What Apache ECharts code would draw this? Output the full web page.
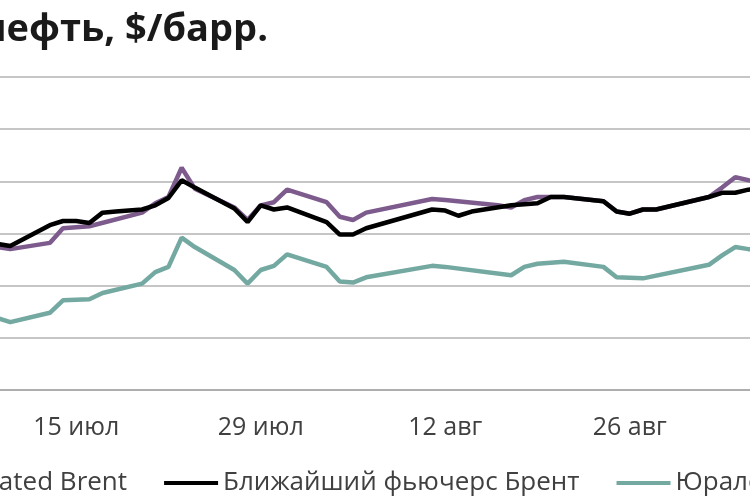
<!DOCTYPE html>
<html lang="ru">
<head>
    <meta charset="UTF-8">
    <script src="https://cdn.jsdelivr.net/npm/echarts@6/dist/echarts.min.js"></script>
    <style>
        html, body { margin: 0; padding: 0; background: #fff; }
    </style>
</head>
<body>
    <div id="chart" style="width: 750px; height: 500px;"></div>
    <script>
        // дни (категории оси X)
        var days = [
            '9 июл', '10 июл', '11 июл', '12 июл', '13 июл', '14 июл', '15 июл', '16 июл', '17 июл', '18 июл',
            '19 июл', '20 июл', '21 июл', '22 июл', '23 июл', '24 июл', '25 июл', '26 июл', '27 июл', '28 июл',
            '29 июл', '30 июл', '31 июл', '1 авг', '2 авг', '3 авг', '4 авг', '5 авг', '6 авг', '7 авг',
            '8 авг', '9 авг', '10 авг', '11 авг', '12 авг', '13 авг', '14 авг', '15 авг', '16 авг', '17 авг',
            '18 авг', '19 авг', '20 авг', '21 авг', '22 авг', '23 авг', '24 авг', '25 авг', '26 авг', '27 авг',
            '28 авг', '29 авг', '30 авг', '31 авг', '1 сен', '2 сен', '3 сен', '4 сен', '5 сен'
        ];
        var tickLabels = ['15 июл', '29 июл', '12 авг', '26 авг'];

        var seriesNames = ['Dated Brent', 'Ближайший фьючерс Брент', 'Юралс'];

        var datedBrent = [
            73.7, 73.5, null, null, 74.1, 75.5, 75.6, 75.7, null, null,
            null, 77.0, 77.9, 78.5, 81.3, 79.3, null, null, 77.5, 76.3,
            77.7, 78.0, 79.2, null, null, 78.0, 76.6, 76.3, 77.0, null,
            null, null, null, 78.3, 78.2, null, null, null, 77.7, 77.5,
            78.2, 78.5, 78.5, 78.5, null, null, 78.1, 77.1, 76.9, 77.3,
            77.3, null, null, null, 78.5, 79.4, 80.4, 80.1, 80.0
        ];
        var brentFutures = [
            74.0, 73.8, null, null, 75.8, 76.2, 76.2, 76.0, 77.0, 77.1,
            null, 77.3, 77.7, 78.4, 80.1, 79.4, null, null, 77.4, 76.1,
            77.7, 77.3, 77.5, null, null, 76.1, 74.9, 74.9, 75.5, null,
            null, null, null, 77.3, 77.2, 76.7, 77.1, null, null, 77.7,
            null, 77.9, 78.5, 78.5, null, null, 78.1, 77.1, 76.9, 77.3,
            77.3, null, null, null, 78.5, 78.9, 78.9, 79.2, 79.3
        ];
        var urals = [
            66.9, 66.5, null, null, 67.4, 68.6, null, 68.7, 69.3, null,
            null, 70.2, 71.3, 71.8, 74.6, 73.7, null, null, 71.5, 70.2,
            71.5, 71.9, 73.0, null, null, 71.8, 70.4, 70.3, 70.8, null,
            null, null, null, 71.9, 71.8, null, null, null, null, 71.0,
            71.8, 72.1, null, 72.3, null, null, 71.8, 70.8, null, 70.7,
            null, null, null, null, 72.0, 72.9, 73.7, 73.5, 73.4
        ];

        var colors = ['#7d5b8d', '#000000', '#74a9a2'];

        function isTick(index) {
            return tickLabels.indexOf(days[index]) !== -1;
        }

        var myChart = echarts.init(document.getElementById('chart'));
        var option = {
            animation: false,
            color: colors,
            title: {
                text: 'Цены на нефть, $/барр.',
                right: 482,
                top: 11,
                padding: 0,
                textStyle: {
                    fontFamily: 'Open Sans',
                    fontSize: 38,
                    fontWeight: 'bold',
                    color: '#1a1a1a'
                }
            },
            legend: {
                left: -84,
                top: 465,
                width: 1100,
                icon: 'rect',
                itemWidth: 54,
                itemHeight: 4,
                itemGap: 37,
                data: seriesNames,
                textStyle: {
                    fontFamily: 'Open Sans',
                    fontSize: 26,
                    color: '#404040'
                }
            },
            grid: {
                left: -9.5,
                right: -18.2,
                top: 77,
                bottom: 110,
                containLabel: false,
                outerBoundsMode: 'none'
            },
            xAxis: {
                type: 'category',
                data: days,
                boundaryGap: true,
                axisLine: { lineStyle: { color: '#a6a6a6', width: 1.5 } },
                axisTick: {
                    interval: isTick,
                    length: 8,
                    lineStyle: { color: '#a6a6a6', width: 1.5 }
                },
                axisLabel: {
                    interval: isTick,
                    margin: 25,
                    fontFamily: 'Open Sans',
                    fontSize: 25,
                    color: '#404040'
                }
            },
            yAxis: {
                type: 'value',
                min: 60,
                max: 90,
                interval: 5,
                axisLine: { show: false },
                axisTick: { show: false },
                axisLabel: { show: false },
                splitLine: { lineStyle: { color: '#b3b3b3', width: 1.5 } }
            },
            series: [
                { name: seriesNames[0], type: 'line', data: datedBrent },
                { name: seriesNames[1], type: 'line', data: brentFutures },
                { name: seriesNames[2], type: 'line', data: urals }
            ].map(function (s) {
                s.showSymbol = false;
                s.connectNulls = true;
                s.lineStyle = { width: 4.5 };
                return s;
            })
        };
        myChart.setOption(option);
    </script>
</body>
</html>
